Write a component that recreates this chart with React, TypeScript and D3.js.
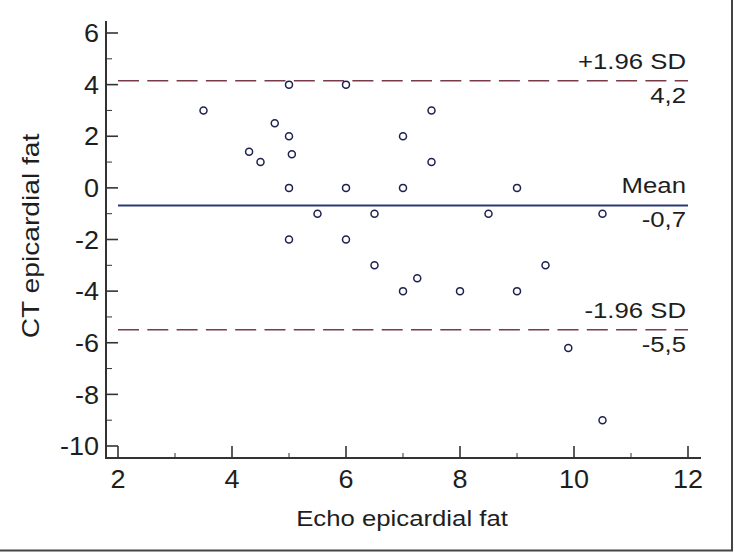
import React from "react";
import * as d3 from "d3";

const echoFat = [3.5, 4.3, 4.5, 4.75, 5, 5, 5.05, 5, 5, 5.5, 6, 6, 6, 6.5, 6.5, 7, 7, 7, 7.25, 7.5, 7.5, 8, 8.5, 9, 9, 9.5, 9.9, 10.5, 10.5];
const ctDiff = [3, 1.4, 1, 2.5, 4, 2, 1.3, 0, -2, -1, 4, 0, -2, -1, -3, 2, 0, -4, -3.5, 3, 1, -4, -1, 0, -4, -3, -6.2, -1, -9];
const xTicks = [2, 4, 6, 8, 10, 12];
const xMinorTicks = [3, 5, 7, 9, 11];
const yTicks = [6, 4, 2, 0, -2, -4, -6, -8, -10];
const yMinorTicks = [5, 3, 1, -1, -3, -5, -7, -9];
const refValues = [4.15, -0.68, -5.5];
const refNames = ["+1.96 SD", "Mean", "-1.96 SD"];
const refValueLabels = ["4,2", "-0,7", "-5,5"];

const W = 735;
const H = 552;
const FONT = "Arial, 'Liberation Sans', sans-serif";

type STProps = {
  x: number;
  y: number;
  sx: number;
  size: number;
  anchor: "start" | "middle" | "end";
  rotate?: number;
  dy?: string;
  children: React.ReactNode;
};

function SText({ x, y, sx, size, anchor, rotate, dy, children }: STProps) {
  const tr = `translate(${x},${y})${rotate ? ` rotate(${rotate})` : ""} scale(${sx},1)`;
  return (
    <text transform={tr} textAnchor={anchor} fontSize={size} fill="#1e1e1e" dy={dy}>
      {children}
    </text>
  );
}

export default function App() {
  const x = d3.scaleLinear().domain([2, 12]).range([118, 688]);
  const y = d3.scaleLinear().domain([-10, 6]).range([446, 33]);
  const axisX = 106;
  const axisY = 458;
  const axisColor = "#333";

  return (
    <svg
      width={W}
      height={H}
      style={{ position: "absolute", left: 0, top: 0, background: "#fff" }}
      fontFamily={FONT}
    >
      <rect x={0} y={0} width={W} height={H} fill="#fff" />
      <line x1={732} y1={0} x2={732} y2={551} stroke="#444" strokeWidth={2} />
      <line x1={0} y1={550.5} x2={733} y2={550.5} stroke="#444" strokeWidth={2} />

      <line x1={axisX} y1={21} x2={axisX} y2={axisY + 1} stroke={axisColor} strokeWidth={2} />
      <line x1={axisX - 1} y1={axisY} x2={701} y2={axisY} stroke={axisColor} strokeWidth={2} />

      {yTicks.map((t) => (
        <g key={"yt" + t}>
          <line x1={axisX} x2={axisX + 12} y1={y(t)} y2={y(t)} stroke={axisColor} strokeWidth={1.6} />
          <SText x={99} y={y(t)} dy="0.36em" anchor="end" size={25.5} sx={1.06}>
            {t}
          </SText>
        </g>
      ))}
      {yMinorTicks.map((t) => (
        <line key={"ym" + t} x1={axisX} x2={axisX + 6} y1={y(t)} y2={y(t)} stroke={axisColor} strokeWidth={1} />
      ))}
      {xTicks.map((t) => (
        <g key={"xt" + t}>
          <line x1={x(t)} x2={x(t)} y1={axisY} y2={axisY - 12} stroke={axisColor} strokeWidth={1.6} />
          <SText x={x(t)} y={488} anchor="middle" size={25.5} sx={1.06}>
            {t}
          </SText>
        </g>
      ))}
      {xMinorTicks.map((t) => (
        <line key={"xm" + t} x1={x(t)} x2={x(t)} y1={axisY} y2={axisY - 5} stroke={axisColor} strokeWidth={1} />
      ))}

      {refValues.map((v, i) => {
        const isMean = i === 1;
        return (
          <g key={"ref" + i}>
            <line
              x1={x(2)}
              x2={x(12)}
              y1={y(v)}
              y2={y(v)}
              stroke={isMean ? "#2d3878" : "#7a3a48"}
              strokeWidth={isMean ? 2 : 1.5}
              strokeDasharray={isMean ? undefined : "21,8.3"}
            />
            <SText x={686} y={y(v) - 12} anchor="end" size={22} sx={1.17}>
              {refNames[i]}
            </SText>
            <SText x={686} y={y(v) + 22} anchor="end" size={22} sx={1.17}>
              {refValueLabels[i]}
            </SText>
          </g>
        );
      })}

      {echoFat.map((e, i) => (
        <circle key={"p" + i} cx={x(e)} cy={y(ctDiff[i])} r={3.5} fill="#fff" stroke="#1e2050" strokeWidth={1.5} />
      ))}

      <SText x={402} y={526} anchor="middle" size={22} sx={1.17}>
        Echo epicardial fat
      </SText>
      <SText x={39} y={236} anchor="middle" size={23.5} sx={1.2} rotate={-90}>
        CT epicardial fat
      </SText>
    </svg>
  );
}
